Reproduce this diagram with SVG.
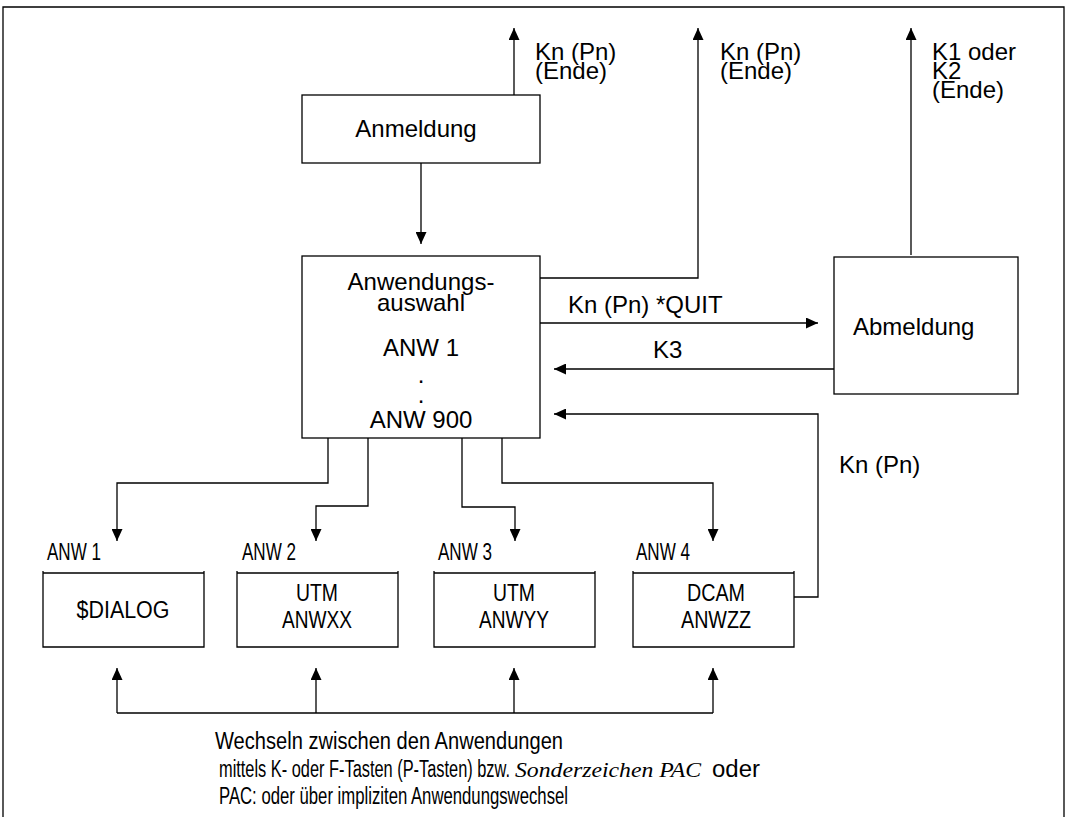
<svg xmlns="http://www.w3.org/2000/svg" width="1068" height="817" viewBox="0 0 1068 817">
  <style>
    .box { fill: #fff; stroke: #000; stroke-width: 1.3; }
    .line { fill: none; stroke: #000; stroke-width: 1.3; }
    .arrow { fill: none; stroke: #000; stroke-width: 1.3; marker-end: url(#head); }
    .t { font-family: "Liberation Sans", Arial, sans-serif; font-size: 24px; fill: #000; }
    .n { font-family: "Liberation Sans", Arial, sans-serif; font-size: 23px; fill: #000; }
    .it { font-family: "Liberation Serif", "Times New Roman", serif; font-style: italic; font-size: 21px; fill: #000; }
    .c { text-anchor: middle; }
  </style>
  <defs>
    <marker id="head" markerUnits="userSpaceOnUse" markerWidth="12" markerHeight="11" refX="12" refY="5.5" orient="auto">
      <path d="M0,0 L12,5.5 L0,11 Z" fill="#000"/>
    </marker>
  </defs>

  <!-- outer frame, open at the bottom -->
  <path class="line" d="M3,817 V7 H1064 V817"/>

  <g id="anmeldung">
    <rect class="box" x="302" y="95" width="238" height="68"/>
    <text class="t c" x="416" y="137">Anmeldung</text>
  </g>

  <g id="anwendungsauswahl">
    <rect class="box" x="302" y="256" width="238" height="182"/>
    <text class="t c" x="421" y="290">Anwendungs-</text>
    <text class="t c" x="421" y="311">auswahl</text>
    <text class="t c" x="421" y="356">ANW 1</text>
    <text class="t c" x="421" y="383">.</text>
    <text class="t c" x="421" y="403">.</text>
    <text class="t c" x="421" y="428">ANW 900</text>
  </g>

  <g id="abmeldung">
    <rect class="box" x="834" y="257" width="184" height="137"/>
    <text class="t" x="853" y="335">Abmeldung</text>
  </g>

  <g id="anw1">
    <text class="n" x="47" y="560" textLength="54" lengthAdjust="spacingAndGlyphs">ANW 1</text>
    <path class="line" d="M43,571 V647 H204 V571 M43,573 H204"/>
    <text class="n c" x="123" y="618" textLength="93" lengthAdjust="spacingAndGlyphs">$DIALOG</text>
  </g>

  <g id="anw2">
    <text class="n" x="242" y="560" textLength="54" lengthAdjust="spacingAndGlyphs">ANW 2</text>
    <path class="line" d="M237,571 V647 H398 V571 M237,573 H398"/>
    <text class="n c" x="317" y="601" textLength="42" lengthAdjust="spacingAndGlyphs">UTM</text>
    <text class="n c" x="317" y="628" textLength="70" lengthAdjust="spacingAndGlyphs">ANWXX</text>
  </g>

  <g id="anw3">
    <text class="n" x="438" y="560" textLength="54" lengthAdjust="spacingAndGlyphs">ANW 3</text>
    <path class="line" d="M434,571 V647 H595 V571 M434,573 H595"/>
    <text class="n c" x="514" y="601" textLength="42" lengthAdjust="spacingAndGlyphs">UTM</text>
    <text class="n c" x="514" y="628" textLength="70" lengthAdjust="spacingAndGlyphs">ANWYY</text>
  </g>

  <g id="anw4">
    <text class="n" x="636" y="560" textLength="54" lengthAdjust="spacingAndGlyphs">ANW 4</text>
    <path class="line" d="M633,571 V647 H794 V571 M633,573 H794"/>
    <text class="n c" x="716" y="601" textLength="58" lengthAdjust="spacingAndGlyphs">DCAM</text>
    <text class="n c" x="716" y="628" textLength="70" lengthAdjust="spacingAndGlyphs">ANWZZ</text>
  </g>

  <g id="connectors">
    <path class="arrow" d="M514,95 V28"/>
    <path class="arrow" d="M421,163 V244"/>
    <path class="arrow" d="M540,278 H698 V28"/>
    <path class="arrow" d="M540,323 H818"/>
    <path class="arrow" d="M834,369 H554"/>
    <path class="arrow" d="M794,597 H818 V414 H554"/>
    <path class="arrow" d="M911,255 V28"/>
    <path class="arrow" d="M328,438 V483 H117 V541"/>
    <path class="arrow" d="M368,438 V506 H316 V541"/>
    <path class="arrow" d="M462,438 V507 H515 V541"/>
    <path class="arrow" d="M502,438 V483 H713 V541"/>
    <path class="line" d="M117,713 H713"/>
    <path class="arrow" d="M117,713 V668"/>
    <path class="arrow" d="M316,713 V668"/>
    <path class="arrow" d="M514,713 V668"/>
    <path class="arrow" d="M713,713 V668"/>
  </g>

  <g id="labels">
    <text class="t" x="535" y="60">Kn (Pn)</text>
    <text class="t" x="535" y="79">(Ende)</text>
    <text class="t" x="720" y="60">Kn (Pn)</text>
    <text class="t" x="720" y="79">(Ende)</text>
    <text class="t" x="932" y="60">K1 oder</text>
    <text class="t" x="932" y="79">K2</text>
    <text class="t" x="932" y="98">(Ende)</text>
    <text class="t" x="568" y="313">Kn (Pn) *QUIT</text>
    <text class="t" x="653" y="358">K3</text>
    <text class="t" x="839" y="473">Kn (Pn)</text>
    <text class="n" x="215" y="749" textLength="348" lengthAdjust="spacingAndGlyphs">Wechseln zwischen den Anwendungen</text>
    <text class="n" x="219" y="777" textLength="291" lengthAdjust="spacingAndGlyphs">mittels K- oder F-Tasten (P-Tasten) bzw.</text>
    <text class="it" x="515" y="777" textLength="186" lengthAdjust="spacingAndGlyphs">Sonderzeichen PAC</text>
    <text class="n" x="712" y="777" textLength="48" lengthAdjust="spacingAndGlyphs">oder</text>
    <text class="n" x="219" y="804" textLength="349" lengthAdjust="spacingAndGlyphs">PAC:  oder über impliziten Anwendungswechsel</text>
  </g>
</svg>
